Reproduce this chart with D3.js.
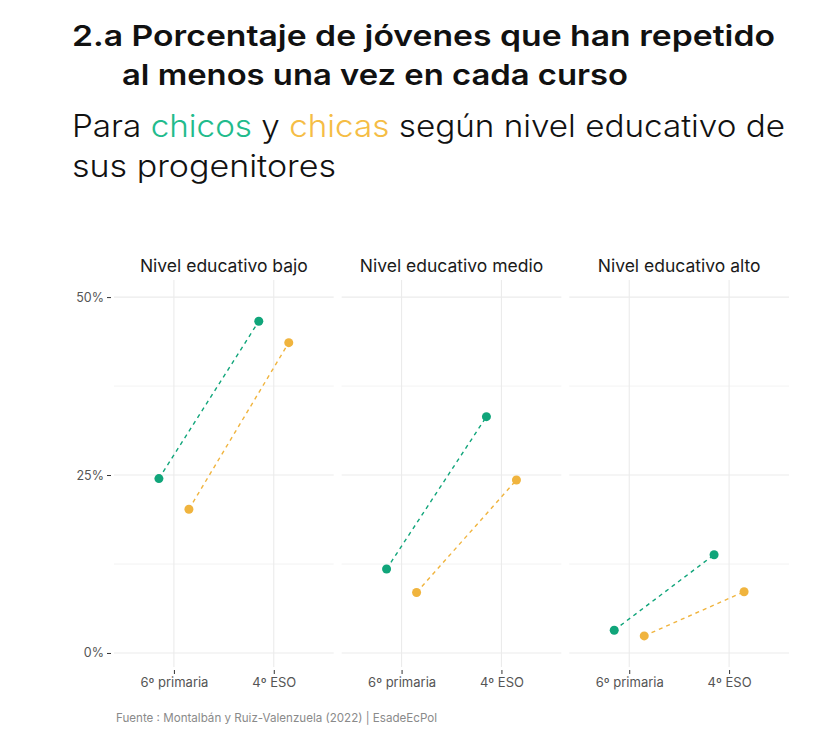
<!DOCTYPE html>
<html>
<head>
<meta charset="utf-8">
<script src="https://cdn.jsdelivr.net/npm/d3@7"></script>
<style>
  body { margin: 0; background: #fff; }
  svg { font-family: "Inter", "DejaVu Sans", sans-serif; }
</style>
</head>
<body>
<svg id="chart" width="818" height="741"></svg>
<script>
"use strict";

// Datos
var niveles = ["Nivel educativo bajo", "Nivel educativo medio", "Nivel educativo alto"];
var cursos = ["6º primaria", "4º ESO"];
var chicos = [[24.5, 46.6], [11.8, 33.2], [3.2, 13.8]];
var chicas = [[20.2, 43.6], [8.5, 24.3], [2.4, 8.6]];
var yTicks = [0, 25, 50];
var yMinor = [12.5, 37.5];

var verde = "#10a57a";
var naranja = "#f0b43e";

var svg = d3.select("#chart");

// Título
var title = svg.append("g");
title.append("text")
  .attr("x", 72).attr("y", 46)
  .attr("font-size", 29).attr("font-weight", 600).attr("fill", "#111")
  .attr("textLength", 703).attr("lengthAdjust", "spacingAndGlyphs")
  .text("2.a Porcentaje de jóvenes que han repetido");
title.append("text")
  .attr("x", 122).attr("y", 85)
  .attr("font-size", 29).attr("font-weight", 600).attr("fill", "#111")
  .attr("textLength", 506).attr("lengthAdjust", "spacingAndGlyphs")
  .text("al menos una vez en cada curso");

var sub = svg.append("text")
  .attr("x", 72).attr("y", 137)
  .attr("font-size", 31).attr("font-weight", 300).attr("fill", "#111")
  .attr("textLength", 713).attr("lengthAdjust", "spacingAndGlyphs");
sub.append("tspan").text("Para ");
sub.append("tspan").attr("fill", "#22bb8c").text("chicos");
sub.append("tspan").text(" y ");
sub.append("tspan").attr("fill", "#f5bd45").text("chicas");
sub.append("tspan").text(" según nivel educativo de");
svg.append("text")
  .attr("x", 72).attr("y", 177)
  .attr("font-size", 31).attr("font-weight", 300).attr("fill", "#111")
  .attr("textLength", 264).attr("lengthAdjust", "spacingAndGlyphs")
  .text("sus progenitores");

// Escalas
var panelX = d3.scaleBand().domain(niveles).range([114, 789]).paddingInner(0.035);
var y = d3.scaleLinear().domain([-1.97, 52.4]).range([667, 280]);
var dodge = 15;

// Eje Y
var yAxis = svg.append("g")
  .attr("transform", "translate(114,0)")
  .call(d3.axisLeft(y).tickValues(yTicks).tickSize(4).tickPadding(3)
    .tickFormat(function (d) { return d + "%"; }));
yAxis.select(".domain").remove();
yAxis.selectAll("line").attr("stroke", "#333").attr("transform", "translate(-3,0)");
yAxis.selectAll("text").attr("font-size", 12.5).attr("fill", "#555")
  .attr("font-family", "Inter, sans-serif").attr("transform", "translate(-3,0)");

niveles.forEach(function (nivel, i) {
  var x0 = panelX(nivel);
  var w = panelX.bandwidth();
  var x = d3.scalePoint().domain(cursos).range([x0, x0 + w]).padding(0.6);
  var g = svg.append("g");

  // Rejilla
  g.selectAll(".ymin").data(yMinor).enter().append("line")
    .attr("x1", x0).attr("x2", x0 + w)
    .attr("y1", function (d) { return y(d); }).attr("y2", function (d) { return y(d); })
    .attr("stroke", "#efefef").attr("stroke-width", 0.8);
  g.selectAll(".ymaj").data(yTicks).enter().append("line")
    .attr("x1", x0).attr("x2", x0 + w)
    .attr("y1", function (d) { return y(d); }).attr("y2", function (d) { return y(d); })
    .attr("stroke", "#ebebeb").attr("stroke-width", 1.1);
  g.selectAll(".xg").data(cursos).enter().append("line")
    .attr("x1", function (d) { return x(d); }).attr("x2", function (d) { return x(d); })
    .attr("y1", 280).attr("y2", 667)
    .attr("stroke", "#ebebeb").attr("stroke-width", 1.1);

  // Título del panel
  g.append("text")
    .attr("x", x0 + w / 2).attr("y", 272)
    .attr("text-anchor", "middle")
    .attr("font-size", 17.5).attr("fill", "#1a1a1a")
    .text(nivel);

  // Eje X
  var xAxis = g.append("g")
    .attr("transform", "translate(0,670)")
    .call(d3.axisBottom(x).tickSize(4).tickPadding(4));
  xAxis.select(".domain").remove();
  xAxis.selectAll("line").attr("stroke", "#333");
  xAxis.selectAll("text").attr("font-size", 13).attr("fill", "#555")
    .attr("font-family", "Inter, sans-serif");

  // Series
  [[chicos[i], verde, -dodge], [chicas[i], naranja, dodge]].forEach(function (s) {
    var vals = s[0];
    var pts = cursos.map(function (c, j) { return [x(c) + s[2], y(vals[j])]; });
    g.append("path")
      .attr("d", d3.line()(pts))
      .attr("fill", "none")
      .attr("stroke", s[1])
      .attr("stroke-width", 1.4)
      .attr("stroke-dasharray", "4,4");
    g.selectAll(null).data(pts).enter().append("circle")
      .attr("cx", function (d) { return d[0]; })
      .attr("cy", function (d) { return d[1]; })
      .attr("r", 4.5)
      .attr("fill", s[1]);
  });
});

// Fuente
svg.append("text")
  .attr("x", 116).attr("y", 722)
  .attr("font-size", 11.6).attr("fill", "#8a8a8a")
  .text("Fuente : Montalbán y Ruiz-Valenzuela (2022) | EsadeEcPol");
</script>
</body>
</html>
